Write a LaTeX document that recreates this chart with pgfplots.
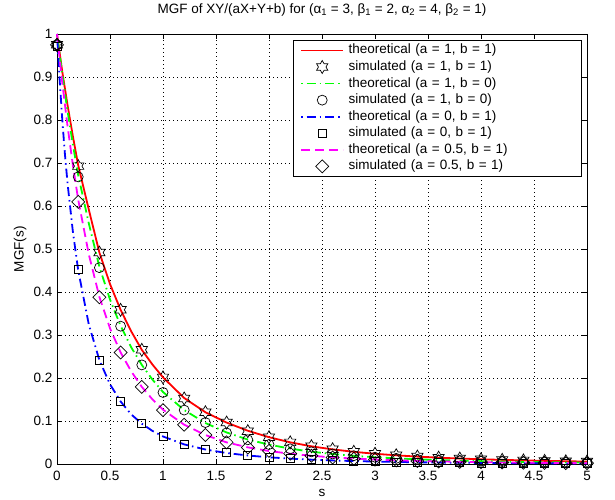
\documentclass[border=0pt]{standalone}
\usepackage{fontspec}
\setmainfont{Liberation Sans}
\usepackage{pgfplots}
\pgfplotsset{compat=1.18}
\definecolor{mred}{RGB}{255,0,0}
\definecolor{mgreen}{RGB}{0,255,0}
\definecolor{mblue}{RGB}{0,0,255}
\definecolor{mmag}{RGB}{255,0,255}

\pgfdeclareplotmark{hexagram}{%
  \pgfpathmoveto{\pgfpointpolar{90}{\pgfplotmarksize}}%
  \pgfpathlineto{\pgfpointpolar{120}{0.577\pgfplotmarksize}}%
  \pgfpathlineto{\pgfpointpolar{150}{\pgfplotmarksize}}%
  \pgfpathlineto{\pgfpointpolar{180}{0.577\pgfplotmarksize}}%
  \pgfpathlineto{\pgfpointpolar{210}{\pgfplotmarksize}}%
  \pgfpathlineto{\pgfpointpolar{240}{0.577\pgfplotmarksize}}%
  \pgfpathlineto{\pgfpointpolar{270}{\pgfplotmarksize}}%
  \pgfpathlineto{\pgfpointpolar{300}{0.577\pgfplotmarksize}}%
  \pgfpathlineto{\pgfpointpolar{330}{\pgfplotmarksize}}%
  \pgfpathlineto{\pgfpointpolar{0}{0.577\pgfplotmarksize}}%
  \pgfpathlineto{\pgfpointpolar{30}{\pgfplotmarksize}}%
  \pgfpathlineto{\pgfpointpolar{60}{0.577\pgfplotmarksize}}%
  \pgfpathclose
  \pgfusepathqstroke
}

\pgfplotstableread{
s v
0 1
0.05 0.912
0.1 0.834
0.15 0.762
0.2 0.695
0.3 0.592
0.4 0.492
0.5 0.419
0.6 0.359
0.7 0.309
0.8 0.266
0.9 0.232
1.0 0.202
1.2 0.154
1.4 0.121
1.6 0.097
1.8 0.078
2.0 0.063
2.2 0.0511
2.4 0.0418
2.6 0.0347
2.8 0.0290
3.0 0.0245
3.2 0.0209
3.4 0.0179
3.6 0.0154
3.8 0.0134
4.0 0.0117
4.2 0.0103
4.4 0.0091
4.6 0.0080
4.8 0.0071
5.0 0.0064
}\theoA

\pgfplotstableread{
s v
0 0.975
0.2 0.693
0.4 0.492
0.6 0.359
0.8 0.266
1.0 0.202
1.2 0.153
1.4 0.121
1.6 0.097
1.8 0.077
2.0 0.063
2.2 0.051
2.4 0.042
2.6 0.035
2.8 0.029
3.0 0.0245
3.2 0.021
3.4 0.018
3.6 0.0154
3.8 0.0134
4.0 0.0117
4.2 0.0103
4.4 0.0091
4.6 0.0080
4.8 0.0071
5.0 0.0064
}\simA

\pgfplotstableread{
s v
0 1
0.05 0.905
0.1 0.820
0.15 0.743
0.2 0.672
0.3 0.560
0.4 0.459
0.5 0.383
0.6 0.322
0.7 0.272
0.8 0.231
0.9 0.197
1.0 0.168
1.2 0.126
1.4 0.096
1.6 0.074
1.8 0.0575
2.0 0.0458
2.2 0.0364
2.4 0.0293
2.6 0.0239
2.8 0.0197
3.0 0.0164
3.2 0.0138
3.4 0.0116
3.6 0.0099
3.8 0.0085
4.0 0.0073
4.2 0.0064
4.4 0.0056
4.6 0.0049
4.8 0.0043
5.0 0.0038
}\theoB

\pgfplotstableread{
s v
0 0.975
0.2 0.668
0.4 0.457
0.6 0.321
0.8 0.231
1.0 0.167
1.2 0.126
1.4 0.097
1.6 0.073
1.8 0.057
2.0 0.046
2.2 0.036
2.4 0.029
2.6 0.024
2.8 0.020
3.0 0.0164
3.2 0.0138
3.4 0.0116
3.6 0.0099
3.8 0.0085
4.0 0.0073
4.2 0.0064
4.4 0.0056
4.6 0.0049
4.8 0.0043
5.0 0.0038
}\simB

\pgfplotstableread{
s v
0 1
0.025 0.893
0.05 0.800
0.075 0.720
0.1 0.652
0.15 0.540
0.2 0.451
0.3 0.325
0.4 0.242
0.5 0.186
0.6 0.146
0.7 0.116
0.8 0.0944
0.9 0.0777
1.0 0.0647
1.2 0.0463
1.4 0.0344
1.6 0.0262
1.8 0.0205
2.0 0.0163
2.2 0.0132
2.4 0.0108
2.6 0.0090
2.8 0.0075
3.0 0.0064
3.2 0.0055
3.4 0.0047
3.6 0.0041
3.8 0.0036
4.0 0.0032
4.2 0.0028
4.4 0.0025
4.6 0.0022
4.8 0.0020
5.0 0.0018
}\theoC

\pgfplotstableread{
s v
0 0.972
0.2 0.452
0.4 0.242
0.6 0.146
0.8 0.095
1.0 0.065
1.2 0.046
1.4 0.034
1.6 0.027
1.8 0.021
2.0 0.016
2.2 0.013
2.4 0.011
2.6 0.009
2.8 0.0075
3.0 0.0064
3.2 0.0055
3.4 0.0047
3.6 0.0041
3.8 0.0036
4.0 0.0032
4.2 0.0028
4.4 0.0025
4.6 0.0022
4.8 0.0020
5.0 0.0018
}\simC

\pgfplotstableread{
s v
0 1
0.05 0.886
0.1 0.785
0.15 0.695
0.2 0.615
0.3 0.488
0.4 0.389
0.5 0.316
0.6 0.260
0.7 0.216
0.8 0.180
0.9 0.151
1.0 0.127
1.2 0.092
1.4 0.068
1.6 0.051
1.8 0.0394
2.0 0.0309
2.2 0.0246
2.4 0.0198
2.6 0.0161
2.8 0.0133
3.0 0.0111
3.2 0.0093
3.4 0.0079
3.6 0.0067
3.8 0.0058
4.0 0.0050
4.2 0.0043
4.4 0.0038
4.6 0.0033
4.8 0.0029
5.0 0.0026
}\theoD

\pgfplotstableread{
s v
0 0.975
0.2 0.610
0.4 0.388
0.6 0.260
0.8 0.180
1.0 0.126
1.2 0.092
1.4 0.068
1.6 0.051
1.8 0.039
2.0 0.031
2.2 0.025
2.4 0.020
2.6 0.016
2.8 0.013
3.0 0.011
3.2 0.0093
3.4 0.0079
3.6 0.0067
3.8 0.0058
4.0 0.0050
4.2 0.0043
4.4 0.0038
4.6 0.0033
4.8 0.0029
5.0 0.0026
}\simD

\begin{document}
\fontsize{13.5pt}{16pt}\selectfont
\begin{tikzpicture}[x=1pt,y=1pt]
\useasboundingbox (0,0) rectangle (615,499);
\begin{axis}[
  at={(57pt,34.7pt)}, anchor=south west,
  scale only axis, width=530pt, height=430.3pt,
  xmin=0, xmax=5, ymin=0, ymax=1,
  xtick={0,0.5,1,1.5,2,2.5,3,3.5,4,4.5,5},
  ytick={0,0.1,0.2,0.3,0.4,0.5,0.6,0.7,0.8,0.9,1},
  /pgf/number format/assume math mode=true,
  ticklabel style={font=\fontsize{13.5pt}{16pt}\selectfont},
  xticklabel style={anchor=base, yshift=-16.4pt},
  yticklabel style={xshift=0pt},
  tick align=inside,
  major tick length=5pt,
  tick style={black, line width=0.6pt},
  axis line style={black, line width=0.8pt},
  grid=major,
  major grid style={black, line width=0.5pt, dash pattern=on 0.7pt off 3.3pt},
  clip=false,
  title={MGF of XY/(aX+Y+b) for (α\textsubscript{1} = 3, β\textsubscript{1} = 2, α\textsubscript{2} = 4, β\textsubscript{2} = 1)},
  title style={at={(axis description cs:0.5,1)}, anchor=base, yshift=14.7pt, font=\fontsize{13.5pt}{16pt}\selectfont},
  xlabel={s},
  xlabel style={at={(axis description cs:0.5,0)}, anchor=base, yshift=-32.4pt, font=\fontsize{13.5pt}{16pt}\selectfont},
  ylabel={MGF(s)},
  ylabel style={at={(axis description cs:-0.0698,0.5)}, anchor=center, font=\fontsize{13.5pt}{16pt}\selectfont},
  legend cell align=left,
  legend image code/.code={\draw[mark repeat=2,mark phase=2,#1] plot coordinates {(0pt,0pt) (21pt,0pt) (42pt,0pt)};},
  legend style={at={(axis description cs:0.9906,0.986)}, anchor=north east,
    draw=black, line width=0.8pt, fill=white,
    inner xsep=7pt, inner ysep=3.5pt, row sep=3.57pt, column sep=4.5pt,
    font=\fontsize{13.5pt}{16pt}\selectfont,
    nodes={inner xsep=0pt, inner ysep=0pt, text height=10pt, text depth=3pt, text width=226pt, align=left}},
]
\addplot[mred, line width=1.8pt] table[x=s,y=v] {\theoA};
\addlegendentry{theoretical (a = 1, b = 1)}
\addplot[only marks, mark=hexagram, mark size=6.5pt, mark options={solid, black, line width=0.7pt, fill=none}] table[x=s,y=v] {\simA};
\addlegendentry{simulated (a = 1, b = 1)}
\addplot[mgreen, line width=1.8pt, dash pattern=on 1.5pt off 4pt on 9pt off 4pt] table[x=s,y=v] {\theoB};
\addlegendentry{theoretical (a = 1, b = 0)}
\addplot[only marks, mark=o, mark size=5pt, mark options={solid, black, line width=0.7pt, fill=none}] table[x=s,y=v] {\simB};
\addlegendentry{simulated (a = 1, b = 0)}
\addplot[mblue, line width=1.8pt, dash pattern=on 1.5pt off 4pt on 9pt off 4pt] table[x=s,y=v] {\theoC};
\addlegendentry{theoretical (a = 0, b = 1)}
\addplot[only marks, mark=square, mark size=4pt, mark options={solid, black, line width=0.7pt, fill=none}] table[x=s,y=v] {\simC};
\addlegendentry{simulated (a = 0, b = 1)}
\addplot[mmag, line width=1.8pt, dash pattern=on 9pt off 5pt] table[x=s,y=v] {\theoD};
\addlegendentry{theoretical (a = 0.5, b = 1)}
\addplot[only marks, mark=square, mark size=4.6pt, mark options={solid, black, line width=0.7pt, fill=none, rotate=45}] table[x=s,y=v] {\simD};
\addlegendentry{simulated (a = 0.5, b = 1)}
\end{axis}
\end{tikzpicture}
\end{document}
